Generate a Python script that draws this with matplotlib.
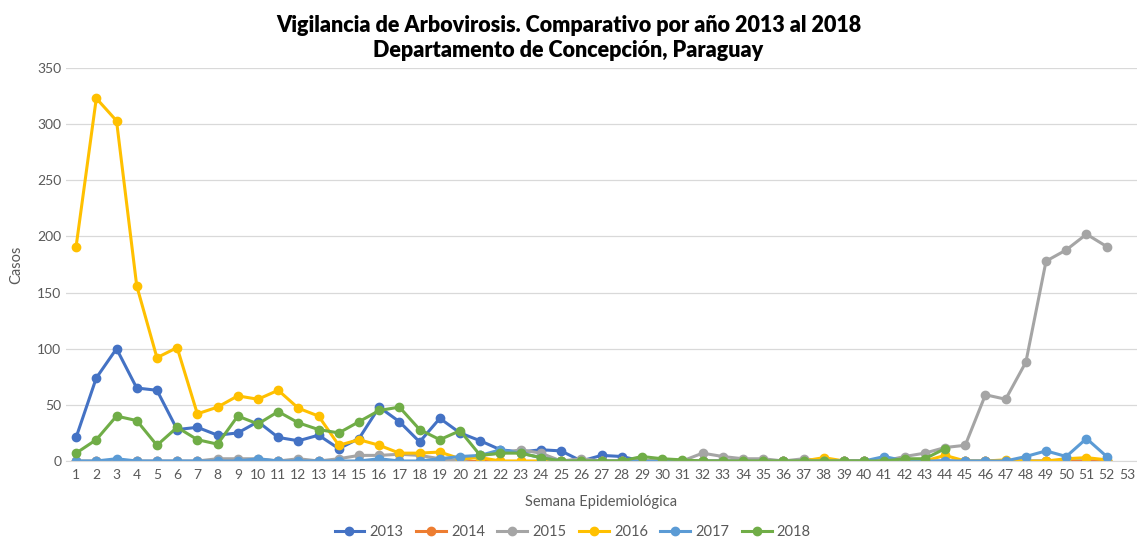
import matplotlib
matplotlib.use("Agg")
import matplotlib.pyplot as plt

plt.rcParams['font.family'] = ['Lato', 'DejaVu Sans']

# semanas epidemiologicas
weeks = list(range(1, 53))
week_labels = [str(w) for w in range(1, 54)]

cases_2013 = [21, 74, 100, 65, 63, 28, 30, 23, 25, 35, 21, 18, 23, 11, 20, 48, 35, 17, 38, 25,
              18, 10, 8, 10, 9, 0, 5, 4, 0, 0, 0, 0, 0, 0, 0, 0, 0, 0, 0, 0,
              0, 0, 0, 0, 0, 0, 0, 0, 0, 0, 0, 0]
cases_2014 = [0] * 52
cases_2015 = [0, 0, 0, 0, 0, 0, 0, 2, 2, 2, 0, 2, 0, 2, 5, 5, 6, 5, 2, 0,
              5, 7, 10, 7, 0, 2, 0, 0, 0, 0, 0, 7, 4, 2, 2, 0, 2, 0, 0, 0,
              0, 4, 7, 12, 14, 59, 55, 88, 178, 188, 202, 191]
cases_2016 = [191, 323, 303, 156, 92, 101, 42, 48, 58, 55, 63, 47, 40, 14, 19, 14, 7, 7, 8, 2,
              3, 0, 0, 0, 0, 0, 0, 0, 0, 0, 0, 0, 0, 0, 0, 0, 0, 3, 0, 0,
              0, 0, 0, 5, 0, 0, 1, 0, 0, 2, 3, 1]
cases_2017 = [0, 0, 2, 0, 0, 0, 0, 0, 0, 2, 0, 0, 0, 0, 0, 2, 0, 0, 2, 4,
              5, 10, 7, 3, 0, 0, 0, 0, 0, 0, 0, 0, 0, 0, 0, 0, 0, 0, 0, 0,
              4, 0, 0, 0, 0, 0, 0, 4, 9, 4, 20, 4]
cases_2018 = [7, 19, 40, 36, 14, 30, 19, 15, 40, 33, 44, 34, 28, 25, 35, 45, 48, 28, 19, 27,
              5, 7, 7, 3, 0, 0, 0, 0, 4, 2, 1, 0, 0, 0, 0, 0, 0, 0, 0, 0,
              0, 2, 2, 11]

series = [('2013', cases_2013, '#4472C4'),
          ('2014', cases_2014, '#ED7D31'),
          ('2015', cases_2015, '#A5A5A5'),
          ('2016', cases_2016, '#FFC000'),
          ('2017', cases_2017, '#5B9BD5'),
          ('2018', cases_2018, '#70AD47')]

fig = plt.figure(figsize=(11.37, 5.39), dpi=100)
ax = fig.add_axes([66 / 1137, 1 - 461 / 539, (1137 - 66) / 1137, (461 - 68) / 539])

for name, vals, col in series:
    ax.plot(weeks[:len(vals)], vals, '-o', color=col, lw=2.2, ms=6, label=name)

ax.set_xlim(0.5, 53.5)
ax.set_ylim(0, 350)
ax.set_xticks(range(1, 54))
ax.set_xticklabels(week_labels)
ax.set_yticks(range(0, 351, 50))
ax.grid(axis='y', color='#D9D9D9', lw=0.9)
ax.set_axisbelow(True)
for s in ['top', 'right', 'left']:
    ax.spines[s].set_visible(False)
ax.spines['bottom'].set_color('#D9D9D9')
ax.tick_params(axis='both', length=0, colors='#595959', labelsize=10)
ax.tick_params(axis='x', pad=6)

ax.set_xlabel('Semana Epidemiológica', color='#595959', fontsize=10.5, labelpad=10)
ax.set_ylabel('Casos', color='#595959', fontsize=10.5, labelpad=10)

fig.suptitle('Vigilancia de Arbovirosis. Comparativo por año 2013 al 2018\nDepartamento de Concepción, Paraguay',
             fontsize=15.5, fontweight='heavy', color='#000000', y=0.972, linespacing=1.25)

ax.legend(loc='upper center', bbox_to_anchor=(0.473, -0.13), ncol=6, frameon=False,
          fontsize=10.5, labelcolor='#595959', handlelength=2.05, columnspacing=0.85, handletextpad=0.35)

fig.savefig('out.png', dpi=100)
